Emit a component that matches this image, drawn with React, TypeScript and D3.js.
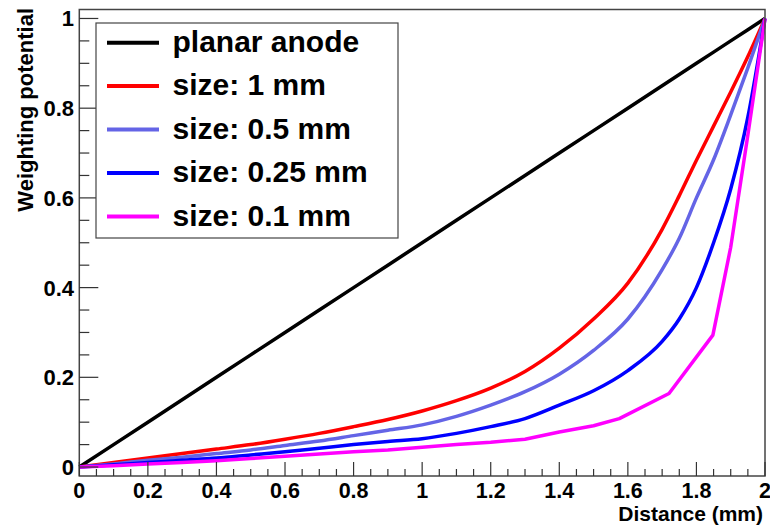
import React from "react";
import * as d3 from "d3";

const W = 770;
const H = 529;

const xGrid = [0, 0.1, 0.2, 0.3, 0.4, 0.5, 0.6, 0.7, 0.8, 0.9, 1.0, 1.1, 1.2, 1.3, 1.4, 1.5, 1.6, 1.7, 1.75, 1.8, 1.85, 1.9, 1.95, 2.0];

const planar = [0, 0.05, 0.1, 0.15, 0.2, 0.25, 0.3, 0.35, 0.4, 0.45, 0.5, 0.55, 0.6, 0.65, 0.7, 0.75, 0.8, 0.85, 0.875, 0.9, 0.925, 0.95, 0.975, 1.0];
const size1 = [0, 0.01, 0.02, 0.03, 0.04, 0.05, 0.062, 0.075, 0.09, 0.106, 0.125, 0.148, 0.176, 0.213, 0.265, 0.33, 0.41, 0.53, 0.605, 0.684, 0.76, 0.836, 0.915, 1.0];
const size05 = [0, 0.007, 0.015, 0.022, 0.03, 0.038, 0.048, 0.058, 0.07, 0.082, 0.094, 0.113, 0.138, 0.168, 0.207, 0.26, 0.33, 0.44, 0.51, 0.6, 0.685, 0.785, 0.89, 1.0];
const size025 = [0, 0.005, 0.01, 0.015, 0.02, 0.027, 0.034, 0.042, 0.05, 0.057, 0.063, 0.075, 0.09, 0.108, 0.138, 0.17, 0.215, 0.28, 0.33, 0.4, 0.5, 0.62, 0.78, 1.0];

const xMag = [0, 0.1, 0.2, 0.3, 0.4, 0.5, 0.6, 0.7, 0.8, 0.9, 1.0, 1.1, 1.2, 1.3, 1.4, 1.5, 1.575, 1.72, 1.848, 1.9, 1.95, 2.0];
const size01 = [0, 0.003, 0.007, 0.01, 0.014, 0.019, 0.024, 0.029, 0.034, 0.038, 0.044, 0.05, 0.055, 0.062, 0.078, 0.092, 0.108, 0.164, 0.294, 0.49, 0.74, 1.0];

const seriesNames = ["planar anode", "size: 1 mm", "size: 0.5 mm", "size: 0.25 mm", "size: 0.1 mm"];
const seriesX = [xGrid, xGrid, xGrid, xGrid, xMag];
const seriesValues = [planar, size1, size05, size025, size01];
const seriesColors = ["#000000", "#ff0000", "#6464e6", "#0000ff", "#ff00ff"];

const xTicks = [0, 0.2, 0.4, 0.6, 0.8, 1, 1.2, 1.4, 1.6, 1.8, 2];
const yTicks = [0, 0.2, 0.4, 0.6, 0.8, 1];

const FONT = "'Liberation Sans', Arial, Helvetica, sans-serif";

export default function App() {
  const left = 79.3, right = 765, top = 9.5, bottom = 476;
  const x = d3.scaleLinear().domain([0, 2]).range([left, right]);
  const y = d3.scaleLinear().domain([-0.02, 1.02]).range([bottom, top]);

  const line = (xs: number[], vals: number[], smooth: boolean) =>
    d3.line<number>()
      .x((_, i) => x(xs[i]))
      .y((v) => y(v))
      .curve(smooth ? d3.curveMonotoneX : d3.curveLinear)(vals) || "";

  const xMinor = d3.range(0, 2.0001, 0.05).map((v) => +v.toFixed(2));
  const yMinor = d3.range(0, 1.0001, 0.05).map((v) => +v.toFixed(2));

  const legX0 = 96, legY0 = 23, legX1 = 398, legY1 = 238;
  const rowY = [42.7, 86, 129.5, 173, 216.5];

  return (
    <svg width={W} height={H} style={{ position: "absolute", left: 0, top: 0, background: "#fff" }} fontFamily={FONT}>
      <rect x={0} y={0} width={W} height={H} fill="#fff" />
      {seriesValues.map((vals, i) => (
        <path key={i} d={line(seriesX[i], vals, i > 0 && i < 4)} fill="none" stroke={seriesColors[i]} strokeWidth={3.5} strokeLinejoin="round" />
      ))}
      <rect x={left} y={top} width={right - left} height={bottom - top} fill="none" stroke="#444" strokeWidth={1.5} />
      {xMinor.map((v, i) => {
        const major = Math.abs(v / 0.2 - Math.round(v / 0.2)) < 1e-6;
        return <line key={"xm" + i} x1={x(v)} x2={x(v)} y1={bottom} y2={bottom - (major ? 14 : 7)} stroke="#333" strokeWidth={1.2} />;
      })}
      {yMinor.map((v, i) => {
        const major = Math.abs(v / 0.2 - Math.round(v / 0.2)) < 1e-6;
        return <line key={"ym" + i} x1={left} x2={left + (major ? 19 : 10)} y1={y(v)} y2={y(v)} stroke="#333" strokeWidth={1.2} />;
      })}
      {xTicks.map((v, i) => (
        <text key={"xt" + i} x={x(v)} y={497.5} textAnchor="middle" fontSize={21.5} fontWeight="bold" fill="#000">
          {String(v)}
        </text>
      ))}
      {yTicks.map((v, i) => (
        <text key={"yt" + i} x={74} y={y(v) + 8} textAnchor="end" fontSize={22} fontWeight="bold" fill="#000">
          {String(v)}
        </text>
      ))}
      <text x={763} y={521} textAnchor="end" fontSize={21} fontWeight="bold" fill="#000">Distance (mm)</text>
      <text transform={`translate(33, 8) rotate(-90)`} textAnchor="end" fontSize={22} fontWeight="bold" fill="#000">Weighting potential</text>
      <rect x={legX0} y={legY0} width={legX1 - legX0} height={legY1 - legY0} fill="#fff" stroke="#444" strokeWidth={1.2} />
      {seriesNames.map((name, i) => (
        <g key={"lg" + i}>
          <line x1={107} x2={159} y1={rowY[i]} y2={rowY[i]} stroke={seriesColors[i]} strokeWidth={4} />
          <text x={172.5} y={rowY[i] + 9} fontSize={30} fontWeight="bold" fill="#000">{name}</text>
        </g>
      ))}
    </svg>
  );
}
